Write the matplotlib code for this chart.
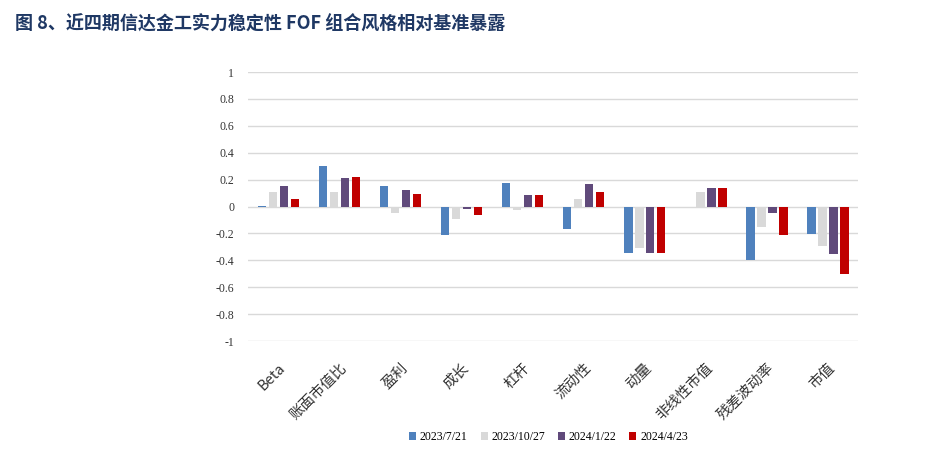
import numpy as np
import matplotlib.pyplot as plt

plt.rcParams['font.family'] = ['Liberation Serif', 'Noto Sans CJK SC']

# 风格因子
categories = ['Beta', '账面市值比', '盈利', '成长', '杠杆', '流动性', '动量', '非线性市值', '残差波动率', '市值']
dates = ['2023/7/21', '2023/10/27', '2024/1/22', '2024/4/23']

v_20230721 = [0.005, 0.30, 0.155, -0.21, 0.175, -0.17, -0.345, -0.005, -0.395, -0.205]
v_20231027 = [0.11, 0.11, -0.045, -0.09, -0.025, 0.055, -0.31, 0.105, -0.155, -0.29]
v_20240122 = [0.15, 0.21, 0.12, -0.02, 0.085, 0.17, -0.345, 0.14, -0.045, -0.355]
v_20240423 = [0.055, 0.22, 0.095, -0.065, 0.085, 0.11, -0.345, 0.135, -0.21, -0.505]

series = [v_20230721, v_20231027, v_20240122, v_20240423]
colors = ['#4F81BD', '#D9D9D9', '#604A7B', '#C00000']
yticks = [1, 0.8, 0.6, 0.4, 0.2, 0, -0.2, -0.4, -0.6, -0.8, -1]

fig = plt.figure(figsize=(9.25, 4.59), dpi=100)
ax = fig.add_axes([0.268, 0.257, 0.66, 0.586])

x = np.arange(len(categories))
w = 0.14
pitch = 0.18
for i, (vals, c, d) in enumerate(zip(series, colors, dates)):
    ax.bar(x + (i - 1.5) * pitch, vals, width=w, color=c, label=d, zorder=3)

ax.set_xlim(-0.5, len(categories) - 0.5)
ax.set_ylim(-1, 1)
ax.set_yticks(yticks)
ax.set_yticklabels([('%g' % t) for t in yticks], fontsize=8.5, color='#333333')
ax.yaxis.grid(True, color='#D9D9D9', linewidth=1, zorder=0)
ax.tick_params(axis='both', length=0)
ax.tick_params(axis='y', pad=10)
for s in ax.spines.values():
    s.set_visible(False)

ax.set_xticks(x)
ax.set_xticklabels(categories, rotation=45, ha='right', rotation_mode='anchor',
                   fontsize=10.5, color='#333333', family=['Noto Sans CJK SC'])
ax.tick_params(axis='x', pad=14)

fig.text(0.016, 0.935, '图 8、近四期信达金工实力稳定性 FOF 组合风格相对基准暴露',
         fontsize=13, fontweight='bold', color='#1F3864',
         family=['Noto Sans CJK SC'])

fig.legend(loc='center', bbox_to_anchor=(0.593, 0.048), ncol=4, frameon=False,
           fontsize=8.5, handlelength=0.6, handleheight=0.6, handletextpad=0.3,
           columnspacing=1.1)

fig.savefig('out.png', dpi=100)
